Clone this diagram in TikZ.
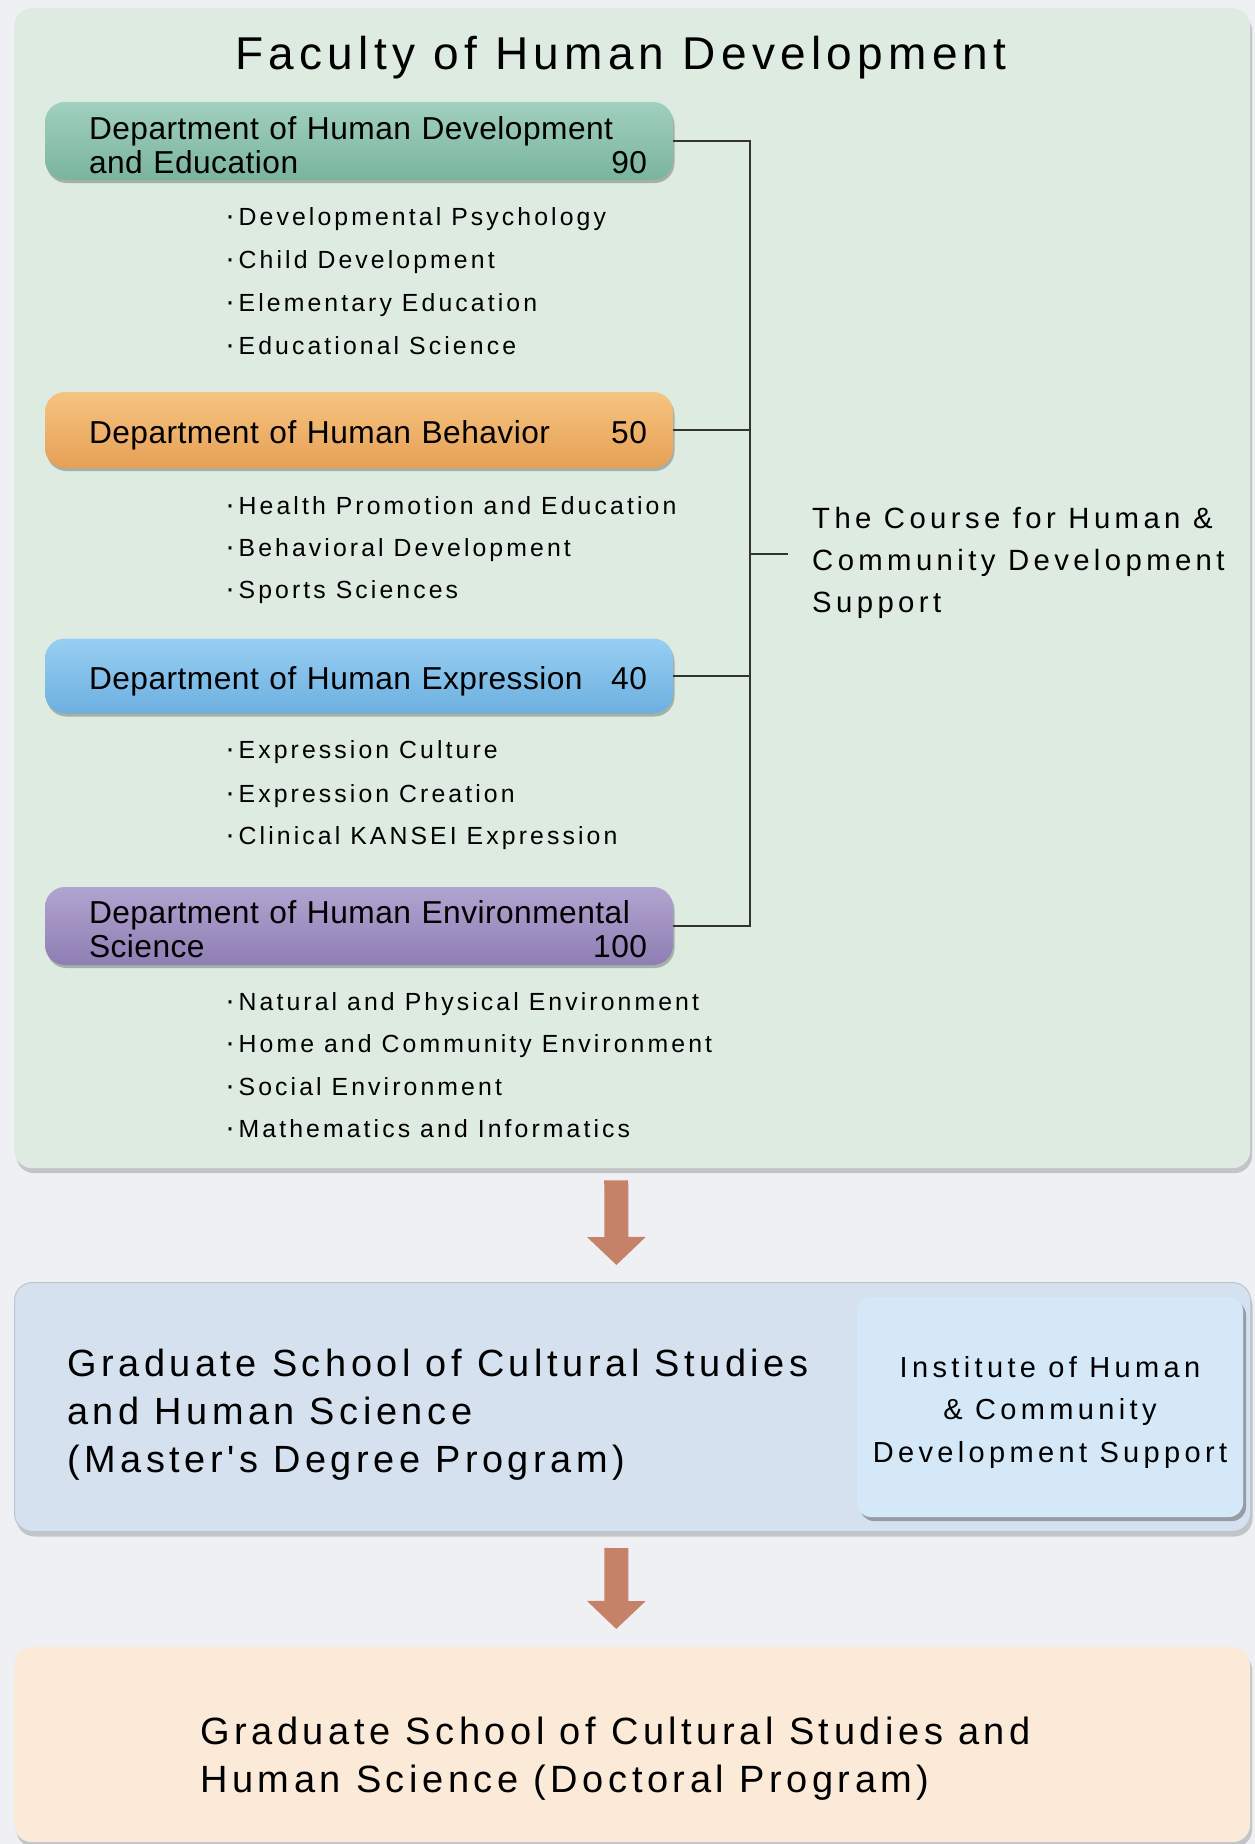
\documentclass[tikz,border=0pt]{standalone}
\usepackage{fontspec}
\setmainfont{Liberation Sans}
\newfontfamily\ftitle{Liberation Sans}[LetterSpace=11.5]
\newfontfamily\fdept{Liberation Sans}[LetterSpace=1.5]
\newfontfamily\fbul{Liberation Sans}[LetterSpace=12.5]
\newfontfamily\fcourse{Liberation Sans}[LetterSpace=15]
\newfontfamily\fgrad{Liberation Sans}[LetterSpace=12]
\newfontfamily\finst{Liberation Sans}[LetterSpace=15]
\usetikzlibrary{arrows.meta,shadows}
\newcommand\pushright{\hskip 0pt plus 1fill\relax}
\newcommand\bdot{{\fontsize{30}{28}\selectfont·}\hspace{3.5pt}}
\definecolor{bgc}{RGB}{238,240,243}
\definecolor{facfill}{RGB}{221,235,225}
\definecolor{dAt}{RGB}{160,208,190}
\definecolor{dAb}{RGB}{122,180,158}
\definecolor{dBt}{RGB}{246,196,128}
\definecolor{dBb}{RGB}{230,160,86}
\definecolor{dCt}{RGB}{152,206,242}
\definecolor{dCb}{RGB}{108,176,224}
\definecolor{dDt}{RGB}{178,164,208}
\definecolor{dDb}{RGB}{142,126,180}
\definecolor{masfill}{RGB}{213,225,239}
\definecolor{instfill}{RGB}{213,232,248}
\definecolor{docfill}{RGB}{251,234,215}
\definecolor{arrc}{RGB}{197,130,105}
\begin{document}
\begin{tikzpicture}[x=1pt,y=-1pt,
  panel/.style={rounded corners=18pt, inner sep=0pt, anchor=north west,
    drop shadow={shadow xshift=2pt,shadow yshift=-5pt,fill=black,opacity=0.18}},
  deptbox/.style={rounded corners=20pt, minimum width=628pt, text width=576pt,
    inner sep=0pt, align=left, font={\fdept\fontsize{31.7}{34}\selectfont},
    drop shadow={shadow xshift=1.5pt,shadow yshift=-3pt,fill=black,opacity=0.25}},
  bul/.style={inner sep=0pt, anchor=base west, font={\fbul\fontsize{24.8}{28}\selectfont}},
  conn/.style={line width=1.3pt, draw=black!80},
  bigarrow/.style={line width=24pt, draw=arrc, -{Triangle[width=57pt,length=28pt]}}
]
\useasboundingbox (0,0) rectangle (1255,1844);
\fill[bgc] (0,0) rectangle (1255,1844);

% panels
\node[panel, fill=facfill, minimum width=1236pt, minimum height=1160pt] (faculty) at (14,8) {};
\node[panel, fill=masfill, draw=masfill!88!black, line width=1pt, minimum width=1236pt, minimum height=249pt] (master) at (14,1282) {};
\node[panel, fill=docfill, minimum width=1236pt, minimum height=195pt] (doc) at (14,1647) {};

% title
\node[inner sep=0pt, anchor=base, font={\ftitle\fontsize{46}{50}\selectfont}] (title) at (621,70) {Faculty of Human Development};

% departments
\node[deptbox, top color=dAt, bottom color=dAb, minimum height=78pt] (d1) at (359,141)
  {\hspace*{18pt}\rule{0pt}{31pt}Department of Human Development\\\hspace*{18pt}and Education\pushright 90};
\node[deptbox, top color=dBt, bottom color=dBb, minimum height=76pt] (d2) at (359,430)
  {\hspace*{18pt}\rule{0pt}{34pt}Department of Human Behavior\pushright 50};
\node[deptbox, top color=dCt, bottom color=dCb, minimum height=75pt] (d3) at (359,676)
  {\hspace*{18pt}\rule{0pt}{34pt}Department of Human Expression\pushright 40};
\node[deptbox, top color=dDt, bottom color=dDb, minimum height=78pt] (d4) at (359,926)
  {\hspace*{18pt}\rule{0pt}{29pt}Department of Human Environmental\\\hspace*{18pt}Science\pushright 100};

% bullets
\node[bul] (b1a) at (225,225) {\bdot Developmental Psychology};
\node[bul] (b1b) at (225,268) {\bdot Child Development};
\node[bul] (b1c) at (225,311) {\bdot Elementary Education};
\node[bul] (b1d) at (225,354) {\bdot Educational Science};
\node[bul] (b2a) at (225,514) {\bdot Health Promotion and Education};
\node[bul] (b2b) at (225,556) {\bdot Behavioral Development};
\node[bul] (b2c) at (225,598) {\bdot Sports Sciences};
\node[bul] (b3a) at (225,758) {\bdot Expression Culture};
\node[bul] (b3b) at (225,802) {\bdot Expression Creation};
\node[bul] (b3c) at (225,844) {\bdot Clinical KANSEI Expression};
\node[bul] (b4a) at (225,1010) {\bdot Natural and Physical Environment};
\node[bul] (b4b) at (225,1052) {\bdot Home and Community Environment};
\node[bul] (b4c) at (225,1095) {\bdot Social Environment};
\node[bul] (b4d) at (225,1137) {\bdot Mathematics and Informatics};

% course
\coordinate (bus) at (750,554);
\node[anchor=west, inner ysep=0pt, inner xsep=24pt, align=left,
  font={\fcourse\fontsize{29.3}{42}\selectfont}] (course) at (788,563)
  {The Course for Human \&\\Community Development\\Support};

% connectors
\draw[conn] (d1.east) -- (d1.east -| bus) -- (d4.east -| bus) -- (d4.east);
\draw[conn] (d2.east) -- (d2.east -| bus);
\draw[conn] (d3.east) -- (d3.east -| bus);
\draw[conn] (bus) -- (bus -| course.west);

% master program
\node[anchor=west, inner sep=0pt, align=left, font={\fgrad\fontsize{37.9}{48}\selectfont}] (gradm) at (67,1415)
  {Graduate School of Cultural Studies\\and Human Science\\(Master's Degree Program)};
\node[rounded corners=14pt, fill=instfill, minimum width=386pt, minimum height=220pt, inner sep=0pt,
  align=center, font={\finst\fontsize{29}{42.5}\selectfont},
  drop shadow={shadow xshift=3pt,shadow yshift=-4pt,fill=black,opacity=0.3}] (inst) at (1050,1407)
  {\rule{0pt}{31pt}Institute of Human\\\& Community\\Development Support};

% doctoral
\node[anchor=west, inner sep=0pt, align=left, font={\fgrad\fontsize{38}{48}\selectfont}] (gradd) at (200,1759)
  {Graduate School of Cultural Studies and\\Human Science (Doctoral Program)};

% arrows
\draw[bigarrow, shorten <=12pt, shorten >=17pt] ([xshift=-16pt]faculty.south) -- ([xshift=-16pt]master.north);
\draw[bigarrow, shorten <=16pt, shorten >=18pt] ([xshift=-16pt]master.south) -- ([xshift=-16pt]doc.north);
\end{tikzpicture}
\end{document}
